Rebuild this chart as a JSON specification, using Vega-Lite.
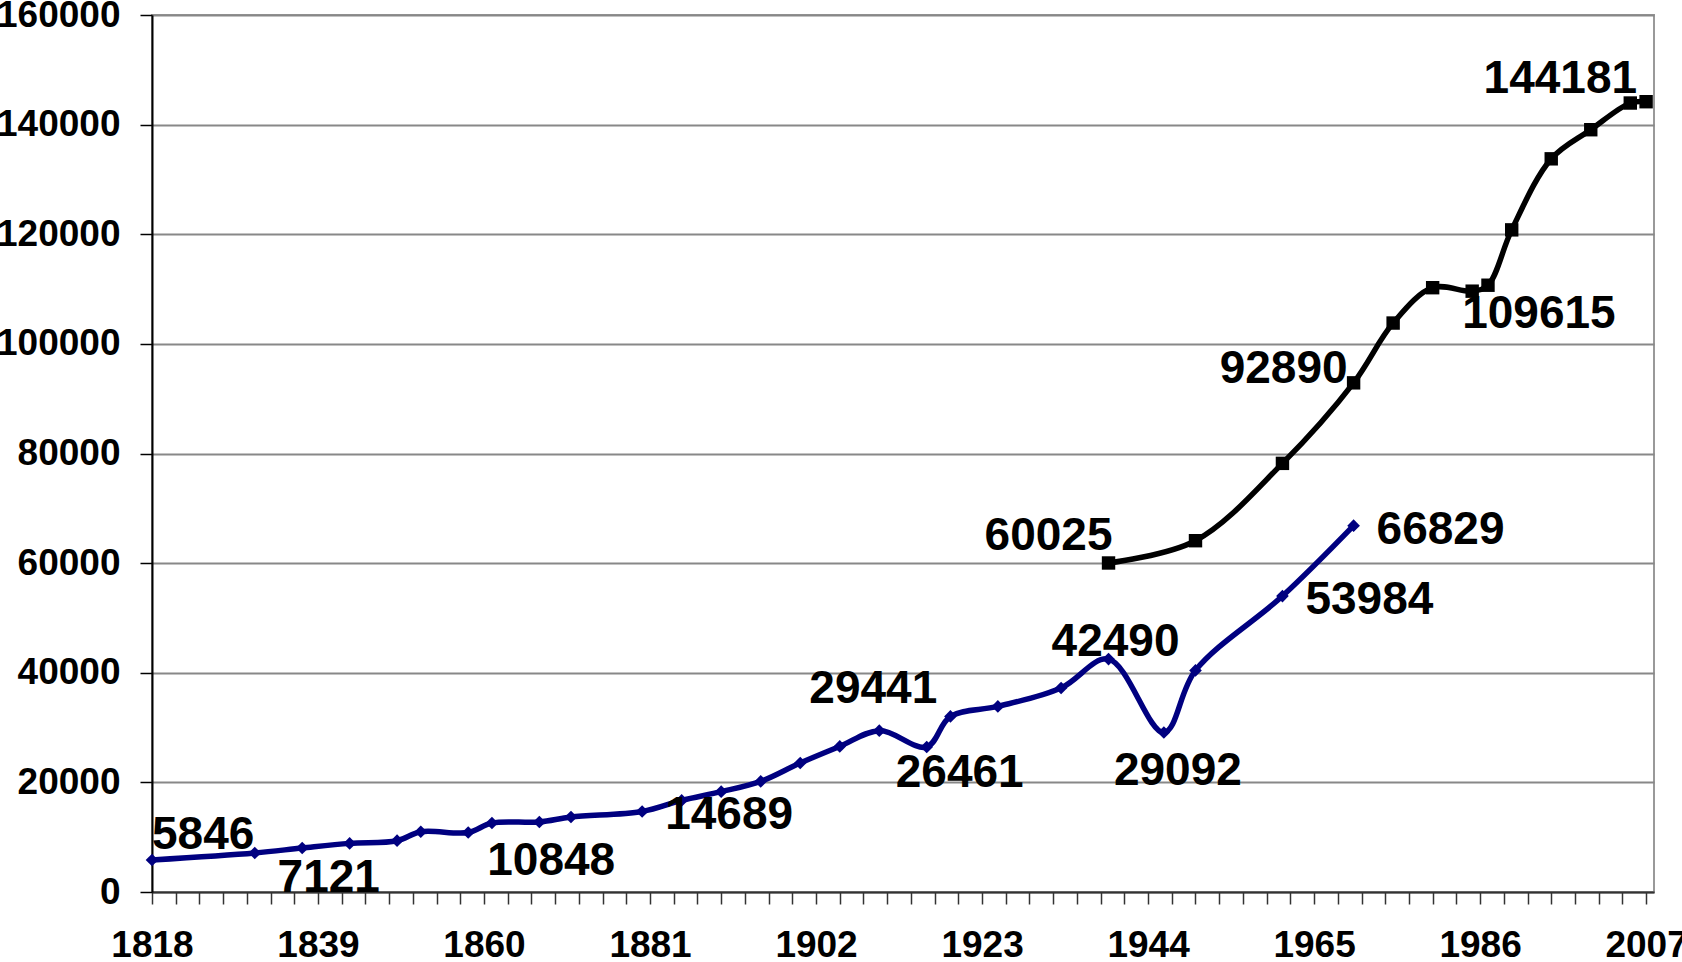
{
  "$schema": "https://vega.github.io/schema/vega-lite/v6.json",
  "width": 1502,
  "height": 877,
  "autosize": {"type": "none"},
  "padding": {"left": 152, "top": 15, "right": 28, "bottom": 70},
  "background": "white",
  "data": {
    "values": [
      {"year": 1818, "value": 5846, "series": "Series 1"},
      {"year": 1831, "value": 7121, "series": "Series 1"},
      {"year": 1837, "value": 8030, "series": "Series 1"},
      {"year": 1843, "value": 8870, "series": "Series 1"},
      {"year": 1849, "value": 9360, "series": "Series 1"},
      {"year": 1852, "value": 11000, "series": "Series 1"},
      {"year": 1858, "value": 10848, "series": "Series 1"},
      {"year": 1861, "value": 12590, "series": "Series 1"},
      {"year": 1867, "value": 12770, "series": "Series 1"},
      {"year": 1871, "value": 13680, "series": "Series 1"},
      {"year": 1880, "value": 14689, "series": "Series 1"},
      {"year": 1885, "value": 16710, "series": "Series 1"},
      {"year": 1890, "value": 18300, "series": "Series 1"},
      {"year": 1895, "value": 20180, "series": "Series 1"},
      {"year": 1900, "value": 23540, "series": "Series 1"},
      {"year": 1905, "value": 26560, "series": "Series 1"},
      {"year": 1910, "value": 29441, "series": "Series 1"},
      {"year": 1916, "value": 26461, "series": "Series 1"},
      {"year": 1919, "value": 32040, "series": "Series 1"},
      {"year": 1925, "value": 33860, "series": "Series 1"},
      {"year": 1933, "value": 37220, "series": "Series 1"},
      {"year": 1939, "value": 42490, "series": "Series 1"},
      {"year": 1946, "value": 29092, "series": "Series 1"},
      {"year": 1950, "value": 40430, "series": "Series 1"},
      {"year": 1961, "value": 53984, "series": "Series 1"},
      {"year": 1970, "value": 66829, "series": "Series 1"},
      {"year": 1939, "value": 60025, "series": "Series 2"},
      {"year": 1950, "value": 64090, "series": "Series 2"},
      {"year": 1961, "value": 78200, "series": "Series 2"},
      {"year": 1970, "value": 92890, "series": "Series 2"},
      {"year": 1975, "value": 103800, "series": "Series 2"},
      {"year": 1980, "value": 110250, "series": "Series 2"},
      {"year": 1985, "value": 109615, "series": "Series 2"},
      {"year": 1987, "value": 110700, "series": "Series 2"},
      {"year": 1990, "value": 120800, "series": "Series 2"},
      {"year": 1995, "value": 133760, "series": "Series 2"},
      {"year": 2000, "value": 139070, "series": "Series 2"},
      {"year": 2005, "value": 143940, "series": "Series 2"},
      {"year": 2007, "value": 144181, "series": "Series 2"}
    ]
  },
  "encoding": {
    "x": {
      "field": "year",
      "type": "quantitative",
      "title": null,
      "scale": {"domain": [1818, 2008], "nice": false, "zero": false},
      "axis": {
        "values": [1818,1821,1824,1827,1830,1833,1836,1839,1842,1845,1848,1851,1854,1857,1860,1863,1866,1869,1872,1875,1878,1881,1884,1887,1890,1893,1896,1899,1902,1905,1908,1911,1914,1917,1920,1923,1926,1929,1932,1935,1938,1941,1944,1947,1950,1953,1956,1959,1962,1965,1968,1971,1974,1977,1980,1983,1986,1989,1992,1995,1998,2001,2004,2007],
        "format": "d",
        "labelExpr": "(datum.value - 1818) % 21 == 0 ? datum.label : ''",
        "labelOverlap": false,
        "labelFlush": false,
        "grid": false,
        "tickSize": 12,
        "tickWidth": 1.5,
        "tickColor": "#333333",
        "domainColor": "#333333",
        "domainWidth": 2,
        "labelPadding": 23,
        "labelFont": "Liberation Sans",
        "labelFontSize": 37,
        "labelFontWeight": "bold",
        "labelColor": "black"
      }
    },
    "y": {
      "field": "value",
      "type": "quantitative",
      "title": null,
      "scale": {"domain": [0, 160000], "nice": false},
      "axis": {
        "values": [0, 20000, 40000, 60000, 80000, 100000, 120000, 140000, 160000],
        "format": "d",
        "grid": true,
        "gridColor": "#888888",
        "gridWidth": 2,
        "tickSize": 12,
        "tickWidth": 1.5,
        "tickColor": "black",
        "domainColor": "black",
        "domainWidth": 2,
        "labelPadding": 20,
        "labelFont": "Liberation Sans",
        "labelFontSize": 37,
        "labelFontWeight": "bold",
        "labelColor": "black"
      }
    }
  },
  "layer": [
    {
      "mark": {"type": "line", "interpolate": "catmull-rom", "strokeWidth": 5.5},
      "encoding": {
        "color": {
          "field": "series",
          "type": "nominal",
          "scale": {"domain": ["Series 1", "Series 2"], "range": ["#000080", "#000000"]},
          "legend": null
        }
      }
    },
    {
      "transform": [{"filter": "datum.series == 'Series 1'"}],
      "mark": {"type": "point", "shape": "diamond", "filled": true, "size": 160, "color": "#000080", "opacity": 1}
    },
    {
      "transform": [{"filter": "datum.series == 'Series 2'"}],
      "mark": {"type": "point", "shape": "square", "filled": true, "size": 180, "color": "#000000", "opacity": 1}
    },
    {
      "transform": [{"filter": "datum.series == 'Series 1' && datum.year == 1818"}],
      "mark": {"type": "text", "align": "left", "baseline": "alphabetic", "dx": 0, "dy": -11},
      "encoding": {"text": {"field": "value", "format": "d"}}
    },
    {
      "transform": [{"filter": "datum.series == 'Series 1' && datum.year == 1831"}],
      "mark": {"type": "text", "align": "center", "baseline": "alphabetic", "dx": 74, "dy": 39},
      "encoding": {"text": {"field": "value", "format": "d"}}
    },
    {
      "transform": [{"filter": "datum.series == 'Series 1' && datum.year == 1858"}],
      "mark": {"type": "text", "align": "center", "baseline": "alphabetic", "dx": 83, "dy": 42},
      "encoding": {"text": {"field": "value", "format": "d"}}
    },
    {
      "transform": [{"filter": "datum.series == 'Series 1' && (datum.year == 1880 || datum.year == 1961 || datum.year == 1970)"}],
      "mark": {"type": "text", "align": "left", "baseline": "alphabetic", "dx": 23, "dy": 18},
      "encoding": {"text": {"field": "value", "format": "d"}}
    },
    {
      "transform": [{"filter": "datum.series == 'Series 1' && datum.year == 1910"}],
      "mark": {"type": "text", "align": "center", "baseline": "alphabetic", "dx": -6, "dy": -28},
      "encoding": {"text": {"field": "value", "format": "d"}}
    },
    {
      "transform": [{"filter": "datum.series == 'Series 1' && datum.year == 1916"}],
      "mark": {"type": "text", "align": "center", "baseline": "alphabetic", "dx": 33, "dy": 40},
      "encoding": {"text": {"field": "value", "format": "d"}}
    },
    {
      "transform": [{"filter": "datum.series == 'Series 1' && datum.year == 1939"}],
      "mark": {"type": "text", "align": "center", "baseline": "alphabetic", "dx": 7, "dy": -3},
      "encoding": {"text": {"field": "value", "format": "d"}}
    },
    {
      "transform": [{"filter": "datum.series == 'Series 1' && datum.year == 1946"}],
      "mark": {"type": "text", "align": "center", "baseline": "alphabetic", "dx": 14, "dy": 52},
      "encoding": {"text": {"field": "value", "format": "d"}}
    },
    {
      "transform": [{"filter": "datum.series == 'Series 2' && datum.year == 1939"}],
      "mark": {"type": "text", "align": "right", "baseline": "alphabetic", "dx": 4, "dy": -13},
      "encoding": {"text": {"field": "value", "format": "d"}}
    },
    {
      "transform": [{"filter": "datum.series == 'Series 2' && datum.year == 1970"}],
      "mark": {"type": "text", "align": "right", "baseline": "alphabetic", "dx": -6, "dy": 0},
      "encoding": {"text": {"field": "value", "format": "d"}}
    },
    {
      "transform": [{"filter": "datum.series == 'Series 2' && datum.year == 1985"}],
      "mark": {"type": "text", "align": "left", "baseline": "alphabetic", "dx": -10, "dy": 37},
      "encoding": {"text": {"field": "value", "format": "d"}}
    },
    {
      "transform": [{"filter": "datum.series == 'Series 2' && datum.year == 2007"}],
      "mark": {"type": "text", "align": "right", "baseline": "alphabetic", "dx": -9, "dy": -9},
      "encoding": {"text": {"field": "value", "format": "d"}}
    }
  ],
  "config": {
    "view": {"stroke": "#999999", "strokeWidth": 2},
    "text": {"font": "Liberation Sans", "fontSize": 46, "fontWeight": "bold", "color": "black"}
  }
}
